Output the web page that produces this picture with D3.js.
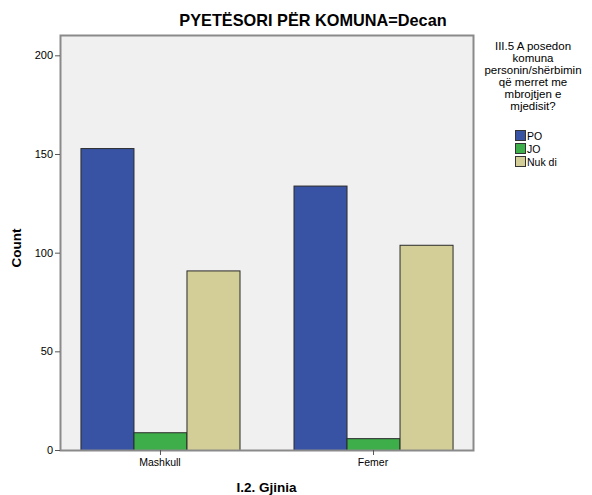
<!DOCTYPE html>
<html><head><meta charset="utf-8">
<script src="https://cdn.jsdelivr.net/npm/d3@7"></script>
<style>body{margin:0;background:#fff}svg{display:block}text{font-family:Arial,"Liberation Sans",sans-serif;fill:#000}</style>
</head><body>
<script>
const categories = ["Mashkull", "Femer"];
const seriesNames = ["PO", "JO", "Nuk di"];
const PO = [153, 134];
const JO = [9, 6];
const NukDi = [91, 104];
const yTicks = [0, 50, 100, 150, 200];
const legendTitle = ["III.5 A posedon", "komuna", "personin/shërbimin", "që merret me", "mbrojtjen e", "mjedisit?"];
const colors = ["#3953a4", "#3eae4a", "#d3ce97"];

const W = 592, H = 495;
const m = {l: 60, r: 473, t: 35, b: 450};
const svg = d3.select("body").append("svg").attr("width", W).attr("height", H);

const x = d3.scaleBand().domain(categories).range([m.l, m.r]).paddingInner(0.2535).paddingOuter(0.096);
const xs = d3.scaleBand().domain(seriesNames).range([0, x.bandwidth()]);
const y = d3.scaleLinear().domain([0, 210.3]).range([m.b, m.t]);

svg.append("rect").attr("x", m.l).attr("y", m.t).attr("width", m.r - m.l).attr("height", m.b - m.t)
  .attr("fill", "#f0f0f0");

const data = categories.map((c, i) => ({cat: c, vals: [PO[i], JO[i], NukDi[i]]}));
const g = svg.append("g").selectAll("g").data(data).join("g")
  .attr("transform", d => `translate(${x(d.cat)},0)`);
g.selectAll("rect").data(d => d.vals.map((v, j) => ({v, s: seriesNames[j], j}))).join("rect")
  .attr("x", d => xs(d.s) + 0.5).attr("width", xs.bandwidth())
  .attr("y", d => y(d.v) + 0.5).attr("height", d => y(0) - y(d.v))
  .attr("fill", d => colors[d.j]).attr("stroke", "#2a2a2a").attr("stroke-width", 1);

svg.append("rect").attr("x", m.l + 0.5).attr("y", m.t + 0.5).attr("width", m.r - m.l).attr("height", m.b - m.t)
  .attr("fill", "none").attr("stroke", "#8a8a8a").attr("stroke-width", 2);

// y axis
const ya = svg.append("g").attr("transform", `translate(${m.l},0)`)
  .call(d3.axisLeft(y).tickValues(yTicks).tickSize(5).tickPadding(2));
ya.select(".domain").remove();
ya.selectAll("line").attr("stroke", "#555");
ya.selectAll("text").attr("font-size", "11px").attr("font-family", "Arial, 'Liberation Sans', sans-serif").attr("fill", "#000");

// x axis
const xa = svg.append("g").attr("transform", `translate(0,${m.b})`)
  .call(d3.axisBottom(x).tickSize(5).tickPadding(4));
xa.select(".domain").remove();
xa.selectAll("line").attr("stroke", "#555").attr("transform", "translate(0.5,0)");
xa.selectAll("text").attr("font-size", "10.5px").attr("font-family", "Arial, 'Liberation Sans', sans-serif").attr("fill", "#000");

svg.append("text").attr("x", 313).attr("y", 26).attr("text-anchor", "middle")
  .attr("font-size", "16.3px").attr("font-weight", "bold").text("PYETËSORI PËR KOMUNA=Decan");
svg.append("text").attr("transform", "translate(21,248) rotate(-90)").attr("text-anchor", "middle")
  .attr("font-size", "13.5px").attr("font-weight", "bold").text("Count");
svg.append("text").attr("x", (m.l + m.r) / 2).attr("y", 492).attr("text-anchor", "middle")
  .attr("font-size", "13.5px").attr("font-weight", "bold").text("I.2. Gjinia");

// legend
const lg = svg.append("g");
lg.selectAll("text.t").data(legendTitle).join("text").attr("class", "t")
  .attr("x", 533).attr("y", (d, i) => 50 + i * 12).attr("text-anchor", "middle")
  .attr("font-size", "11.5px").text(d => d);
const li = lg.selectAll("g.i").data(seriesNames).join("g").attr("class", "i")
  .attr("transform", (d, i) => `translate(515,${130 + i * 13})`);
li.append("rect").attr("x", 0.5).attr("y", 0.5).attr("width", 10).attr("height", 10)
  .attr("fill", (d, i) => colors[i]).attr("stroke", "#333");
li.append("text").attr("x", 12).attr("y", 9.5).attr("font-size", "10.5px").text(d => d);
</script>
</body></html>
